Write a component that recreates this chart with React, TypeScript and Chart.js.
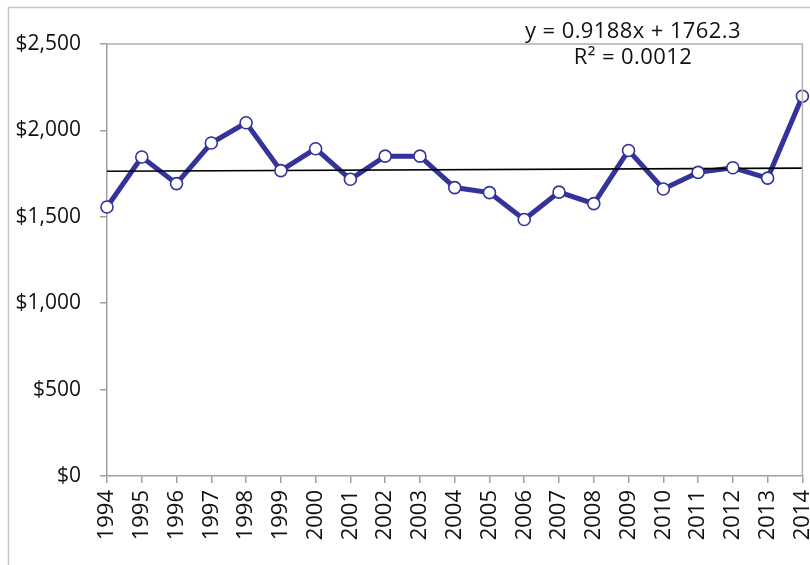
import React, { useEffect, useRef } from "react";
import { Chart, registerables } from "chart.js";

Chart.register(...registerables);

const years: string[] = [
  "1994", "1995", "1996", "1997", "1998", "1999", "2000", "2001", "2002", "2003", "2004",
  "2005", "2006", "2007", "2008", "2009", "2010", "2011", "2012", "2013", "2014",
];
const values: number[] = [
  1557, 1846, 1692, 1927, 2044, 1767, 1894, 1717, 1851, 1851, 1669,
  1640, 1484, 1643, 1576, 1884, 1661, 1757, 1784, 1724, 2198,
];
const trendSlope = 0.9188;
const trendIntercept = 1762.3;
const trendLabel = "y = 0.9188x + 1762.3";
const r2Label = "R² = 0.0012";
const yTicks: number[] = [0, 500, 1000, 1500, 2000, 2500];

const FONT = "'Open Sans', 'Noto Sans', sans-serif";
const BLUE = "#333399";

const framePlugin = {
  id: "frame",
  beforeDraw(chart: any) {
    const ctx = chart.ctx;
    ctx.save();
    ctx.fillStyle = "#ffffff";
    ctx.fillRect(0, 0, chart.width, chart.height);
    ctx.strokeStyle = "#c8c8c8";
    ctx.lineWidth = 1.5;
    ctx.strokeRect(8.5, 7.5, chart.width + 20, chart.height + 20);
    ctx.restore();
  },
  afterDraw(chart: any) {
    const { ctx, chartArea } = chart;
    ctx.save();
    ctx.strokeStyle = "#b0b0b0";
    ctx.lineWidth = 1.5;
    ctx.beginPath();
    ctx.moveTo(chartArea.left, chartArea.top);
    ctx.lineTo(chartArea.right, chartArea.top);
    ctx.lineTo(chartArea.right, chartArea.bottom);
    ctx.stroke();
    ctx.fillStyle = "#111111";
    ctx.font = `22px ${FONT}`;
    try {
      (ctx as any).letterSpacing = "0.4px";
    } catch (e) {}
    ctx.textAlign = "center";
    ctx.textBaseline = "alphabetic";
    ctx.fillText(trendLabel, 633, 38);
    ctx.fillText(r2Label, 633, 64);
    ctx.restore();
  },
};

export default function App() {
  const ref = useRef<HTMLCanvasElement | null>(null);

  useEffect(() => {
    if (!ref.current) return;
    const n = years.length;
    const trendData = [
      { x: years[0], y: trendSlope * 1 + trendIntercept },
      { x: years[n - 1], y: trendSlope * n + trendIntercept },
    ];
    const chart = new Chart(ref.current, {
      type: "line",
      data: {
        labels: years,
        datasets: [
          {
            label: "markers",
            data: values,
            showLine: false,
            pointRadius: 6,
            pointBorderWidth: 1.6,
            pointBackgroundColor: "#ffffff",
            pointBorderColor: BLUE,
            order: 0,
          },
          {
            label: "trend",
            data: trendData as any,
            borderColor: "#000000",
            borderWidth: 1.6,
            pointRadius: 0,
            order: 1,
          },
          {
            label: "series",
            data: values,
            borderColor: BLUE,
            borderWidth: 5,
            pointRadius: 0,
            tension: 0,
            order: 2,
          },
        ],
      },
      options: {
        animation: false,
        responsive: false,
        maintainAspectRatio: false,
        layout: { padding: { left: 0, right: 5, top: 44, bottom: 0 } },
        plugins: { legend: { display: false }, tooltip: { enabled: false } },
        scales: {
          x: {
            type: "category",
            offset: false,
            afterFit(scale: any) {
              scale.height = 89;
              scale.paddingLeft = 0;
              scale.paddingRight = 0;
            },
            grid: {
              display: true,
              drawOnChartArea: false,
              drawTicks: true,
              tickLength: 7,
              color: "#a0a0a0",
              lineWidth: 1.5,
            },
            border: { display: true, color: "#a0a0a0", width: 1.5 },
            ticks: {
              autoSkip: false,
              minRotation: 90,
              maxRotation: 90,
              padding: 7,
              color: "#111111",
              font: { family: FONT, size: 22 },
            },
          },
          y: {
            min: 0,
            max: 2500,
            afterFit(scale: any) {
              scale.width = 107;
              scale.paddingTop = 0;
              scale.paddingBottom = 0;
            },
            afterBuildTicks(scale: any) {
              scale.ticks = yTicks.map((v) => ({ value: v }));
            },
            grid: {
              display: true,
              drawOnChartArea: false,
              drawTicks: true,
              tickLength: 7,
              color: "#a0a0a0",
              lineWidth: 1.5,
            },
            border: { display: true, color: "#a0a0a0", width: 1.5 },
            ticks: {
              padding: 19,
              color: "#111111",
              font: { family: FONT, size: 21 },
              callback: (v: any) => "$" + Number(v).toLocaleString("en-US"),
            },
          },
        },
      },
      plugins: [framePlugin],
    });
    return () => chart.destroy();
  }, []);

  return (
    <div style={{ position: "fixed", left: 0, top: 0, width: 810, height: 565, background: "#fff" }}>
      <canvas ref={ref} width={810} height={565} style={{ display: "block", width: 810, height: 565 }} />
    </div>
  );
}
